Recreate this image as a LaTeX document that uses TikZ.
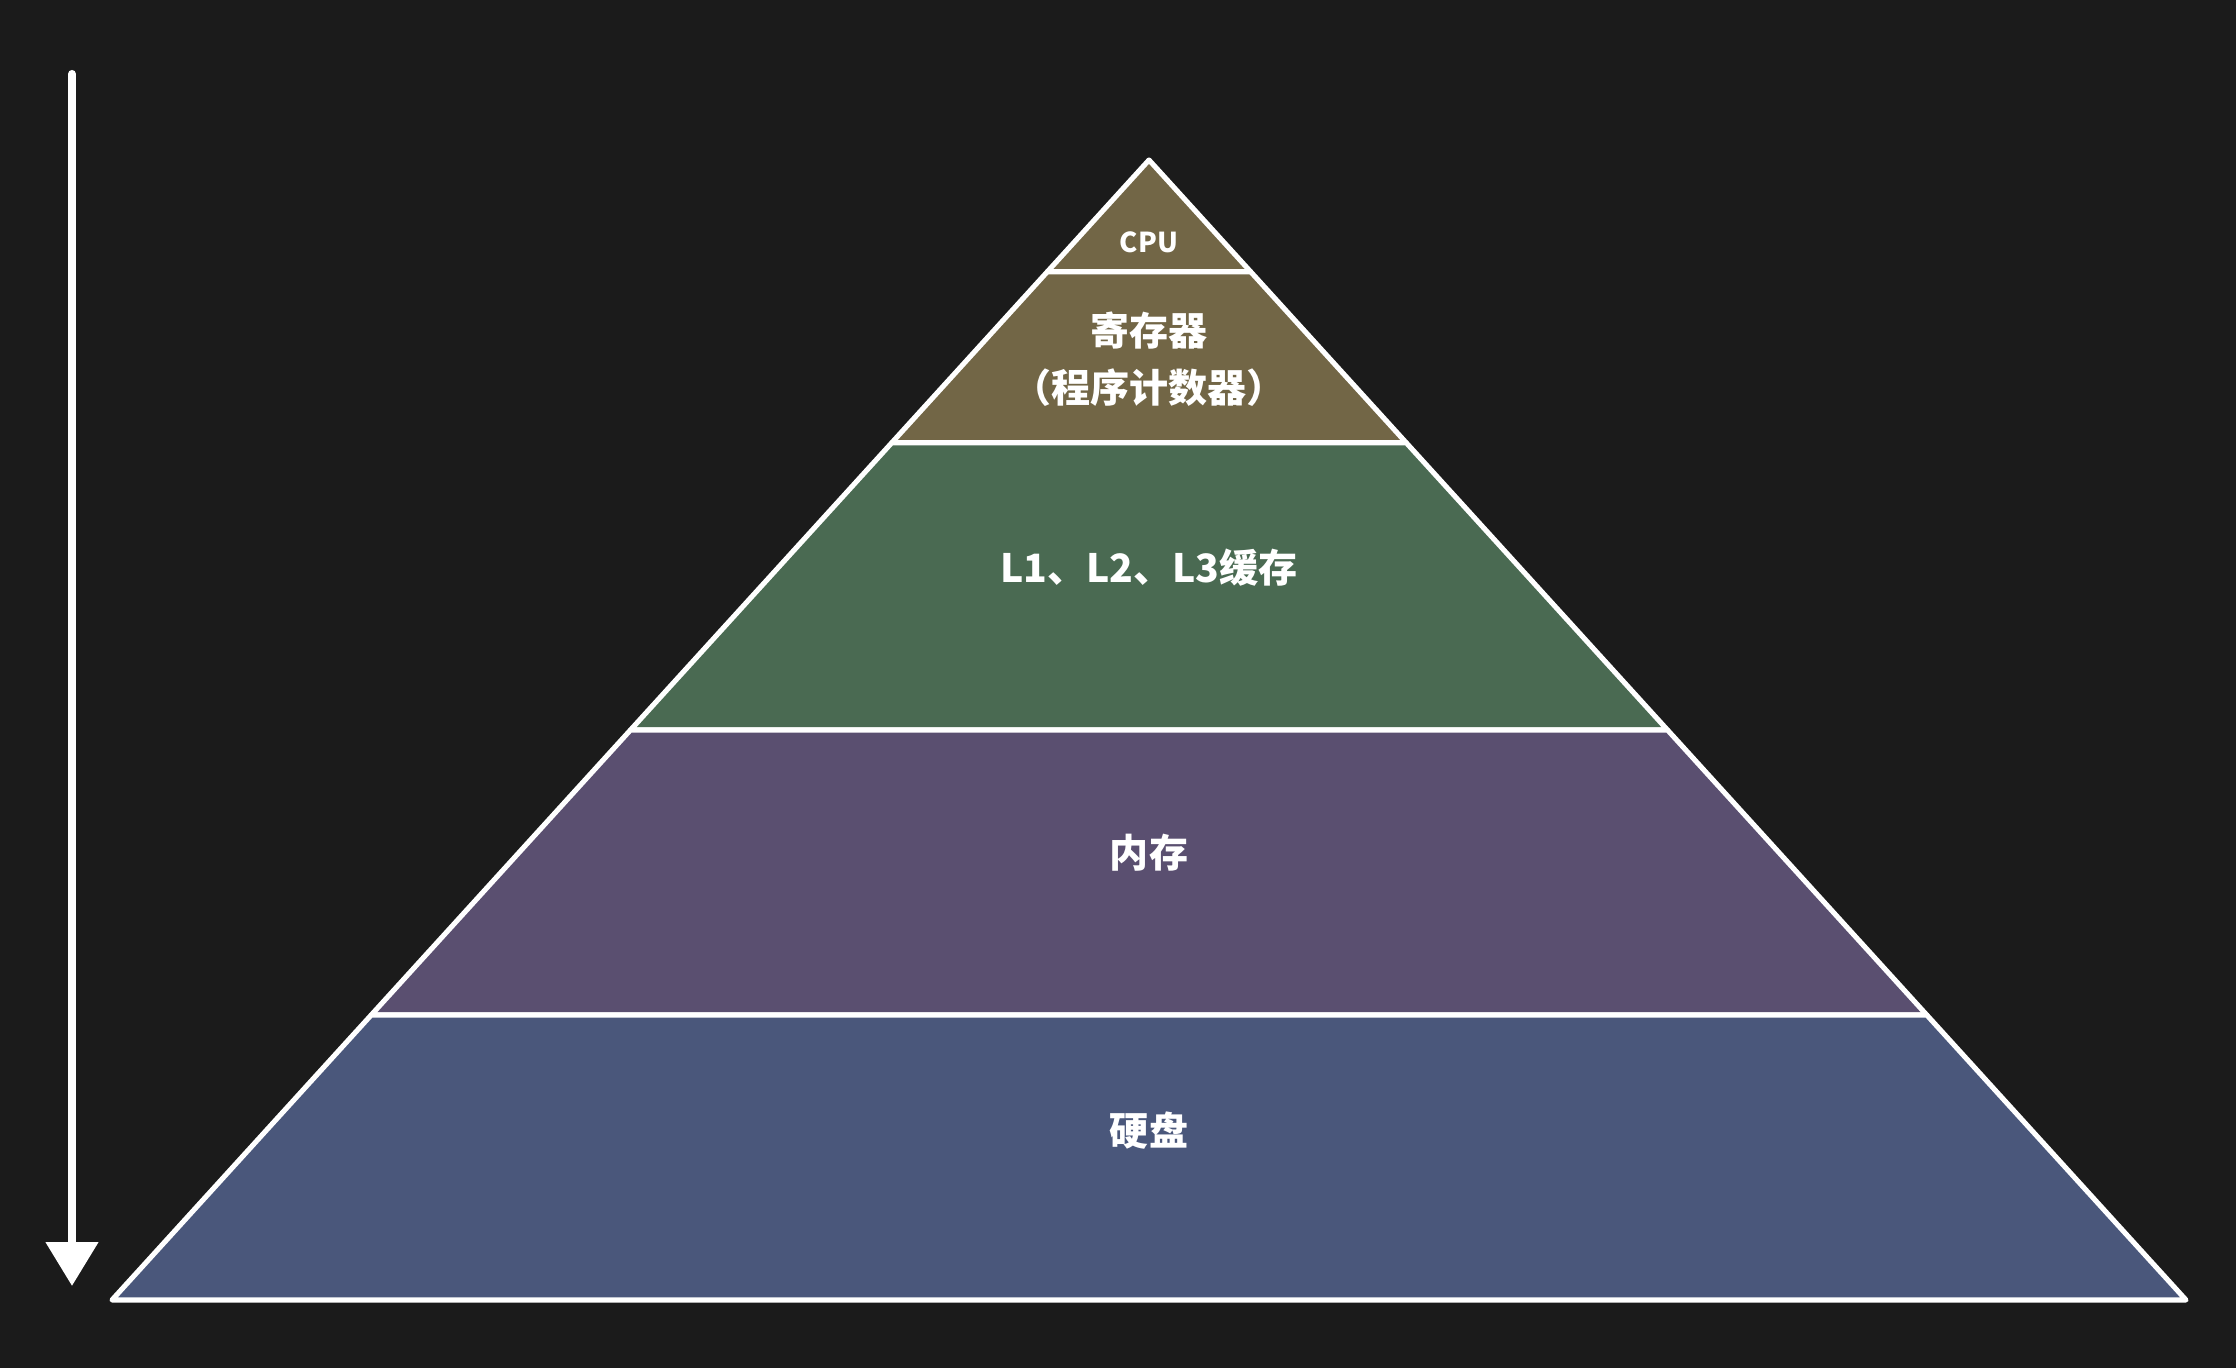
\documentclass[tikz,border=0pt]{standalone}
\usepackage{fontspec}
\usepackage{tikz}
\usetikzlibrary{arrows.meta, positioning, calc}
\setmainfont{Noto Sans CJK SC}
\definecolor{bgdark}{HTML}{1B1B1B}
\definecolor{tierolive}{HTML}{726646}
\definecolor{tiergreen}{HTML}{4A6A52}
\definecolor{tierpurple}{HTML}{5A4F70}
\definecolor{tierblue}{HTML}{4A577B}
\tikzset{
  tier/.style={draw=white, line width=1.45pt, line join=round},
  tierlabel/.style={white, font=\fontsize{11.1}{16.3}\selectfont\bfseries, align=center, inner sep=0pt}
}

\begin{document}
\begin{tikzpicture}[x=0.01cm, y=-0.01cm]
  % Background
  \fill[bgdark] (0,0) rectangle (2236,1368);
  \useasboundingbox (0,0) rectangle (2236,1368);

  % Pyramid corners
  \coordinate (apex) at (1149,160);
  \coordinate (baseL) at (112,1300);
  \coordinate (baseR) at (2186,1300);

  % Top tier (CPU)
  \filldraw[tier, fill=tierolive] (apex) -- ($(apex)!0.098!(baseL)$) -- ($(apex)!0.098!(baseR)$) -- cycle;

  % Lower tiers (top to bottom)
  \foreach \a/\b/\col in {0.098/0.248/tierolive, 0.248/0.5/tiergreen, 0.5/0.75/tierpurple, 0.75/1/tierblue} {
    \filldraw[tier, fill=\col] ($(apex)!\a!(baseL)$) -- ($(apex)!\b!(baseL)$) -- ($(apex)!\b!(baseR)$) -- ($(apex)!\a!(baseR)$) -- cycle;
  }

  % Tier labels
  \node[tierlabel, font=\fontsize{7.8}{9}\selectfont\bfseries] (cpu) at (1149,242) {CPU};
  \node[tierlabel] (reg) at (1149,359) {寄存器\\（程序计数器）};
  \node[tierlabel] (cache) at (1149,568) {L1、L2、L3缓存};
  \node[tierlabel] (mem) at (1149,853) {内存};
  \node[tierlabel] (disk) at (1149,1131) {硬盘};

  % Direction arrow (LEFT SIDE)
  \coordinate (arrtop) at (72,74);
  \coordinate (arrend) at (72,1286);
  \draw[white, line width=2.3pt, line cap=round, -{Triangle[width=14.5pt, length=12.5pt]}] (arrtop) -- (arrend);
\end{tikzpicture}
\end{document}
